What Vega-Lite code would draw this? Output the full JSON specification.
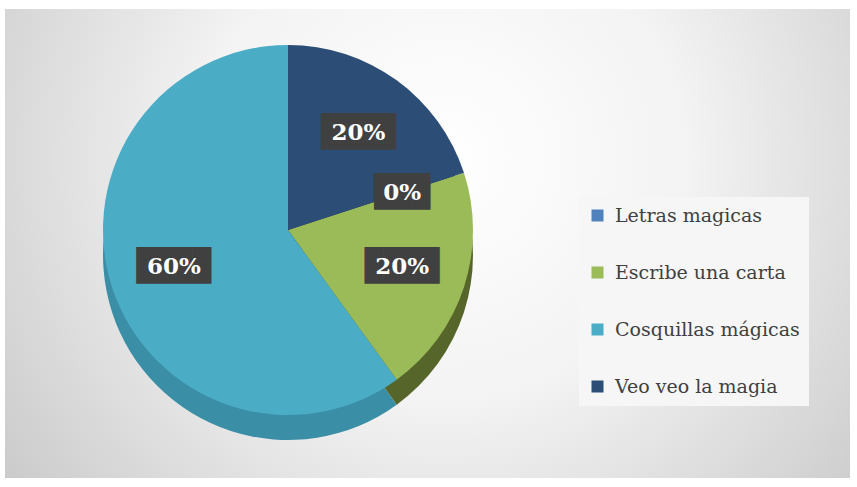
{
  "$schema": "https://vega.github.io/schema/vega-lite/v6.json",
  "width": 845,
  "height": 469,
  "autosize": {"type": "none"},
  "padding": {"left": 5, "top": 9, "right": 7, "bottom": 9},
  "background": "#ffffff",
  "data": {
    "values": [
      {"categoria": "Letras magicas", "porcentaje": 0},
      {"categoria": "Escribe una carta", "porcentaje": 0.2},
      {"categoria": "Cosquillas mágicas", "porcentaje": 0.6},
      {"categoria": "Veo veo la magia", "porcentaje": 0.2}
    ]
  },
  "layer": [
    {
      "data": {"values": [{"fondo": "area"}]},
      "mark": {
        "type": "rect", "x": 0, "y": 0, "x2": "width", "y2": "height",
        "fill": {
          "gradient": "radial",
          "x1": 0.52, "y1": 0.4, "r1": 0,
          "x2": 0.52, "y2": 0.4, "r2": 0.72,
          "stops": [
            {"offset": 0, "color": "#ffffff"},
            {"offset": 0.4, "color": "#f3f3f3"},
            {"offset": 1, "color": "#c2c2c2"}
          ]
        }
      }
    },
    {
      "mark": {"type": "arc", "x": 283, "y": 246, "outerRadius": 185, "stroke": null},
      "encoding": {
        "theta": {"field": "porcentaje", "type": "quantitative", "stack": true},
        "order": {"field": "categoria", "type": "nominal", "sort": "descending"},
        "color": {
          "field": "categoria",
          "type": "nominal",
          "scale": {
            "domain": ["Letras magicas", "Escribe una carta", "Cosquillas mágicas", "Veo veo la magia"],
            "range": ["#35587f", "#56662a", "#3a8ea6", "#1d3552"]
          },
          "legend": null
        }
      }
    },
    {
      "mark": {"type": "arc", "x": 283, "y": 221, "outerRadius": 185, "stroke": null},
      "encoding": {
        "theta": {"field": "porcentaje", "type": "quantitative", "stack": true},
        "order": {"field": "categoria", "type": "nominal", "sort": "descending"},
        "color": {
          "field": "categoria",
          "type": "nominal",
          "scale": {
            "domain": ["Letras magicas", "Escribe una carta", "Cosquillas mágicas", "Veo veo la magia"],
            "range": ["#4F81BD", "#9BBB59", "#4BACC6", "#2C4D75"]
          },
          "legend": {
            "orient": "none",
            "legendX": 574,
            "legendY": 188,
            "title": null,
            "fillColor": "#f6f6f6",
            "padding": 9,
            "symbolType": "square",
            "symbolSize": 144,
            "symbolStrokeWidth": 0,
            "symbolOpacity": 1,
            "labelFont": "DejaVu Serif",
            "labelFontSize": 19,
            "labelColor": "#404040",
            "labelLimit": 300,
            "rowPadding": 37,
            "labelOffset": 8
          }
        }
      }
    },
    {
      "mark": {"type": "text", "x": 283, "y": 221, "radius": 120, "font": "DejaVu Sans Mono", "fontSize": 31, "color": "#404040", "align": "center", "baseline": "middle"},
      "encoding": {
        "theta": {"field": "porcentaje", "type": "quantitative", "stack": true},
        "order": {"field": "categoria", "type": "nominal", "sort": "descending"},
        "text": {"condition": {"test": "datum.porcentaje === 0", "value": "███"}, "value": "████"}
      }
    },
    {
      "mark": {"type": "text", "x": 283, "y": 221, "radius": 120, "font": "DejaVu Serif", "fontWeight": "bold", "fontSize": 23, "color": "#ffffff", "align": "center", "baseline": "middle"},
      "encoding": {
        "theta": {"field": "porcentaje", "type": "quantitative", "stack": true},
        "order": {"field": "categoria", "type": "nominal", "sort": "descending"},
        "text": {"field": "porcentaje", "type": "quantitative", "format": ".0%"}
      }
    }
  ],
  "resolve": {"scale": {"color": "independent"}},
  "config": {"view": {"stroke": null}}
}
